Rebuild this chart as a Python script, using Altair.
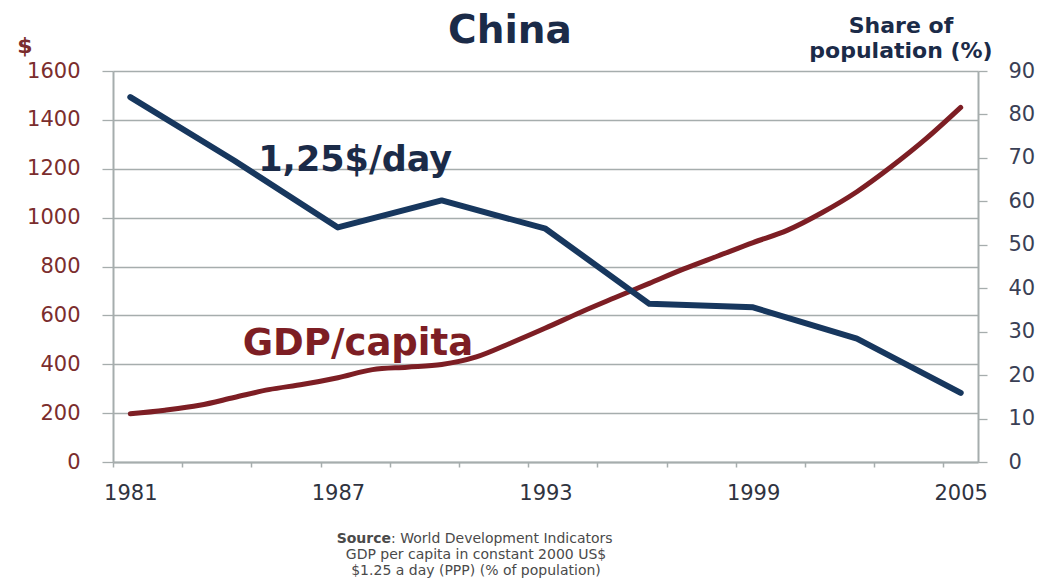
import altair as alt
import pandas as pd

# ---- data ----
gdp_years = list(range(1981, 2006))
gdp_values = [197, 212, 232, 264, 296, 318, 345, 378, 388, 399, 430, 487, 548, 612, 672, 731, 790, 844, 898, 949,
              1021, 1106, 1209, 1323, 1451]
pov_years = [1981, 1984, 1987, 1990, 1993, 1996, 1999, 2002, 2005]
pov_values = [84.0, 69.4, 54.0, 60.2, 53.7, 36.4, 35.6, 28.4, 15.9]
x_label_years = [1981, 1987, 1993, 1999, 2005]
left_ticks = list(range(0, 1601, 200))
right_ticks = list(range(0, 91, 10))

title_text = "China"
left_title = "$"
right_title = ["Share of", "population (%)"]
source_bold = "Source"
source_rest = ": World Development Indicators"
source_lines = ["GDP per capita in constant 2000 US$", "$1.25 a day (PPP) (% of population)"]
pov_label = "1,25$/day"
gdp_label = "GDP/capita"

# ---- styling ----
FONT = "DejaVu Sans"
NAVY = "#1B2B48"
BLUE = "#17375E"
RED = "#7D1E24"
LEFT_LBL = "#7B2D2D"
RIGHT_LBL = "#3A3F55"
GRAY = "#A6ADAD"
SRC = "#4A4A4A"
W, H = 865, 391
BAND = W / 25.0

gdp_df = pd.DataFrame({"year": gdp_years, "gdp": gdp_values})
pov_df = pd.DataFrame({"year": pov_years, "pov": pov_values})

label_set = ",".join("'%d'" % y for y in x_label_years)
x_enc = alt.X(
    "year:Q",
    scale=alt.Scale(domain=[1980.5, 2005.5], nice=False, zero=False),
    axis=alt.Axis(
        title="", values=gdp_years, format="d",
        labelExpr="indexof([%s], datum.label) >= 0 ? datum.label : ''" % label_set,
        tickOffset=-BAND / 2, labelOffset=BAND / 2,
        labelFlush=False, labelOverlap=False, labelBound=False,
        grid=False, domainColor=GRAY, domainWidth=2, tickColor=GRAY, tickWidth=1.5,
        tickSize=5, labelPadding=15, labelFont=FONT, labelFontSize=21, labelColor="#2F3340",
        labelBaseline="top",
    ),
)

y_left = alt.Y(
    "gdp:Q",
    scale=alt.Scale(domain=[0, 1600], nice=False),
    axis=alt.Axis(
        title="", orient="left", values=left_ticks, format="d", grid=True, gridColor=GRAY, gridWidth=1.3,
        domainColor=GRAY, domainWidth=2, tickColor=GRAY, tickWidth=1.3, tickSize=11,
        labelPadding=22, labelFont=FONT, labelFontSize=21, labelColor=LEFT_LBL,
    ),
)

y_right = alt.Y(
    "pov:Q",
    scale=alt.Scale(domain=[0, 90], nice=False),
    axis=alt.Axis(
        title="", orient="right", values=right_ticks, format="d", grid=False,
        domainColor=GRAY, domainWidth=2, tickColor=GRAY, tickWidth=1.3, tickSize=9,
        labelPadding=21, labelFont=FONT, labelFontSize=21, labelColor=RIGHT_LBL,
    ),
)

gdp_line = alt.Chart(gdp_df).mark_line(
    color=RED, strokeWidth=5, strokeCap="round", strokeJoin="round", interpolate="monotone"
).encode(x=x_enc, y=y_left)

gdp_text = alt.Chart(pd.DataFrame({"year": [1987.58], "gdp": [438], "t": [gdp_label]})).mark_text(
    font=FONT, fontSize=37, fontWeight="bold", color=RED, align="center", baseline="alphabetic"
).encode(x="year:Q", y="gdp:Q", text="t:N")

pov_line = alt.Chart(pov_df).mark_line(
    color=BLUE, strokeWidth=6, strokeCap="round", strokeJoin="round"
).encode(x=x_enc, y=y_right)

pov_text = alt.Chart(pd.DataFrame({"year": [1987.5], "pov": [67.0], "t": [pov_label]})).mark_text(
    font=FONT, fontSize=35, fontWeight="bold", color=NAVY, align="center", baseline="alphabetic"
).encode(x="year:Q", y="pov:Q", text="t:N")

left_layer = alt.layer(gdp_line, gdp_text)
right_layer = alt.layer(pov_line, pov_text)


def label(text, x, y, size, color, weight="normal", align="center"):
    return alt.Chart(pd.DataFrame({"t": [text]})).mark_text(
        font=FONT, fontSize=size, fontWeight=weight, color=color, align=align, baseline="alphabetic"
    ).encode(x=alt.value(x), y=alt.value(y), text="t:N")


texts = [
    label(title_text, 397, -28, 39, NAVY, "bold"),
    label(left_title, -88, -18, 22, LEFT_LBL, "bold"),
    label(right_title[0], 788, -38, 22, NAVY, "bold"),
    label(right_title[1], 788, -13, 22, NAVY, "bold"),
    label(source_bold, 278, 472, 14, SRC, "bold", "right"),
    label(source_rest, 278, 472, 14, SRC, "normal", "left"),
    label(source_lines[0], 363, 488, 14, SRC),
    label(source_lines[1], 363, 504, 14, SRC),
]

chart = alt.layer(left_layer, right_layer, *texts).resolve_scale(y="independent").properties(
    width=W, height=H,
    padding={"left": 105, "top": 63, "right": 75, "bottom": 117},
    autosize=alt.AutoSizeParams(type="none"),
    background="white",
).configure_view(strokeWidth=0)

chart.save("out.html", embed_options={"renderer": "svg", "actions": False})
